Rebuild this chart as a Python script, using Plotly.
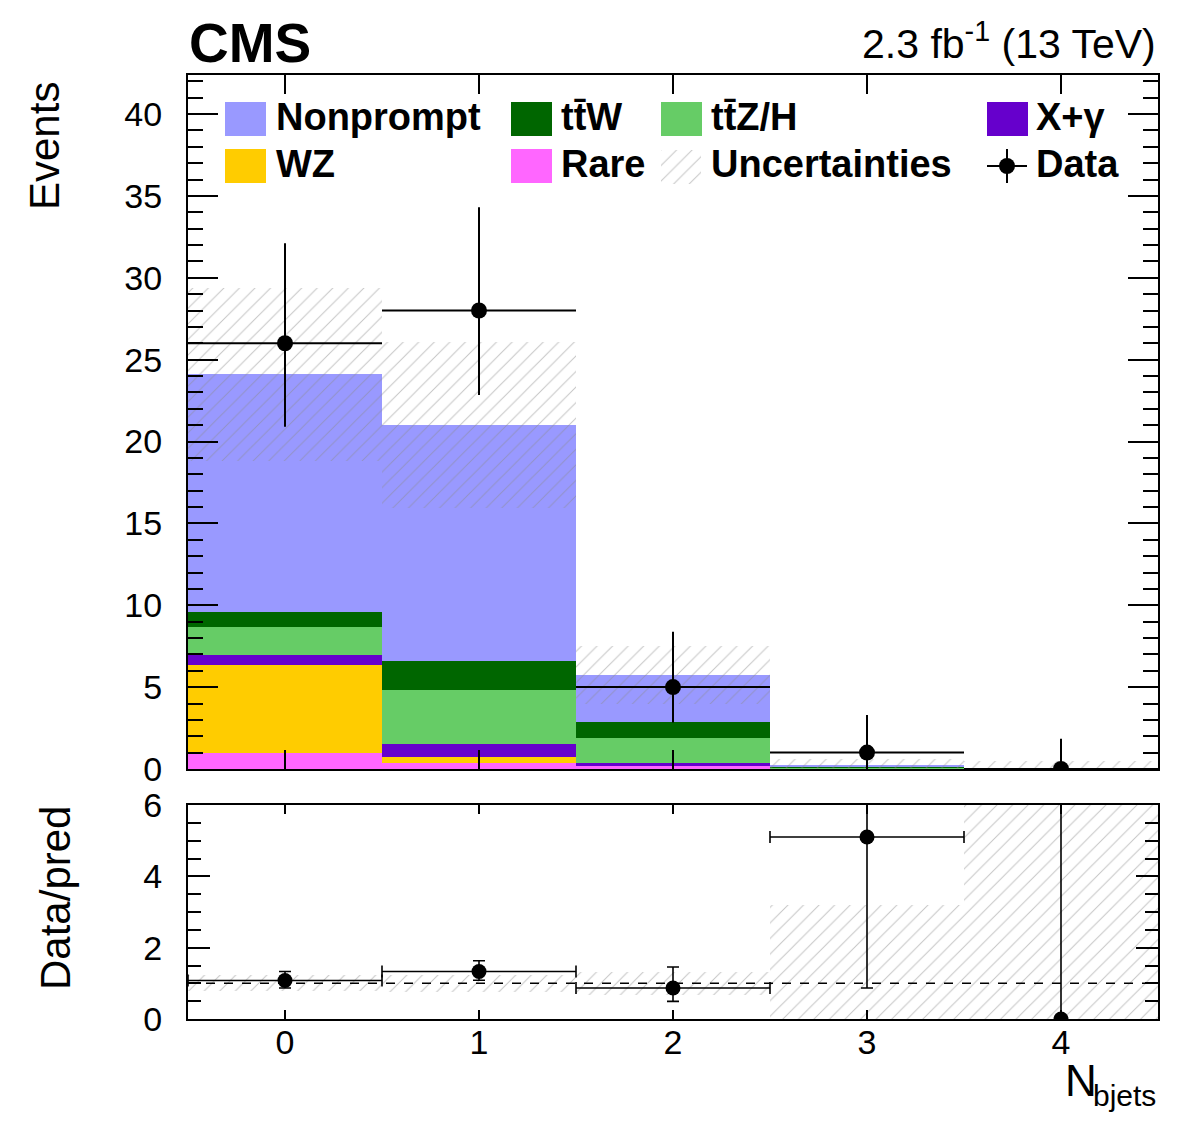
import numpy as np
import plotly.graph_objects as go

# ---------------- data ----------------
categories = [0, 1, 2, 3, 4]
tick_labels = ["0", "1", "2", "3", "4"]
rare = [1.00, 0.39, 0.20, 0.02, 0.01]
wz = [5.35, 0.34, 0.03, 0.00, 0.00]
xgamma = [0.61, 0.80, 0.12, 0.01, 0.00]
ttzh = [1.73, 3.29, 1.52, 0.08, 0.02]
ttw = [0.90, 1.78, 1.00, 0.04, 0.01]
nonprompt = [14.51, 14.40, 2.87, 0.046, 0.01]
uncertainty = [5.30, 5.05, 1.80, 0.43, 0.42]
data = [26, 28, 5, 1, 0]
data_err_up = [6.1, 6.3, 3.38, 2.3, 1.84]
data_err_down = [5.1, 5.16, 2.16, 0.83, 0.0]

# ---------------- geometry helpers ----------------
W, H = 1182, 1121
ML, MR, MT, MB = 188, 24, 75, 102
PW, PH = W - ML - MR, H - MT - MB


def px(xp):
    return (xp - ML) / PW


def py(yp):
    return (H - MB - yp) / PH


FONT = "Liberation Sans, Arial, sans-serif"
HATCH = dict(shape="/", fgcolor="#8c8c8c", bgcolor="rgba(0,0,0,0)", size=11, solidity=0.09)

fig = go.Figure()

x = np.array(categories, dtype=float)
stack = [
    ("Rare", rare, "#FF66FF"),
    ("WZ", wz, "#FFCC00"),
    ("X+γ", xgamma, "#6600CC"),
    ("ttZ/H", ttzh, "#66CC66"),
    ("ttW", ttw, "#006600"),
    ("Nonprompt", nonprompt, "#9999FF"),
]
base = np.zeros(len(categories))
for name, vals, col in stack:
    v = np.array(vals, dtype=float)
    fig.add_trace(go.Bar(x=x, y=v, base=base, width=1.0, name=name,
                         marker=dict(color=col, line=dict(width=0)),
                         xaxis="x", yaxis="y", showlegend=False))
    base = base + v
total = base
unc = np.array(uncertainty)
lo = np.maximum(0, total - unc)
hi = total + unc
fig.add_trace(go.Bar(x=x, y=hi - lo, base=lo, width=1.0,
                     marker=dict(color="rgba(0,0,0,0)", line=dict(width=0), pattern=HATCH),
                     xaxis="x", yaxis="y", showlegend=False))

d = np.array(data, dtype=float)
fig.add_trace(go.Scatter(x=x, y=d, mode="markers", xaxis="x", yaxis="y",
                         marker=dict(color="black", size=16),
                         error_x=dict(type="constant", value=0.5, width=0, thickness=2, color="black"),
                         error_y=dict(type="data", array=data_err_up, arrayminus=data_err_down,
                                      symmetric=False, width=0, thickness=2, color="black"),
                         showlegend=False))

# ---------------- ratio panel ----------------
rel = unc / total
rlo = np.maximum(0, 1 - rel)
rhi = 1 + rel
fig.add_trace(go.Bar(x=x, y=rhi - rlo, base=rlo, width=1.0,
                     marker=dict(color="rgba(0,0,0,0)", line=dict(width=0), pattern=HATCH),
                     xaxis="x2", yaxis="y2", showlegend=False))
ratio = d / total
r_up = np.array(data_err_up) / total
r_dn = np.array(data_err_down) / total
m = d > 0
fig.add_trace(go.Scatter(x=x[m], y=ratio[m], mode="markers", xaxis="x2", yaxis="y2",
                         marker=dict(color="black", size=15),
                         error_x=dict(type="constant", value=0.5, width=6, thickness=1.6, color="black"),
                         error_y=dict(type="data", array=r_up[m], arrayminus=r_dn[m],
                                      symmetric=False, width=6, thickness=1.6, color="black"),
                         showlegend=False))
fig.add_trace(go.Scatter(x=x[~m], y=ratio[~m], mode="markers", xaxis="x2", yaxis="y2",
                         marker=dict(color="black", size=15),
                         error_y=dict(type="data", array=r_up[~m], arrayminus=r_dn[~m],
                                      symmetric=False, width=0, thickness=1.6, color="black"),
                         showlegend=False))

# legend hatch box (uses its own tiny axis)
fig.add_trace(go.Bar(x=[0.5], y=[1], width=1.0, xaxis="x3", yaxis="y3",
                     marker=dict(color="rgba(0,0,0,0)", line=dict(width=0), pattern=HATCH),
                     showlegend=False))

tickfont = dict(family=FONT, size=34, color="black")
axcommon = dict(showline=True, linecolor="black", linewidth=2, mirror="allticks",
                ticks="inside", tickcolor="black", tickwidth=2, showgrid=False, zeroline=False)

fig.update_layout(
    width=W, height=H,
    margin=dict(l=ML, r=MR, t=MT, b=MB),
    paper_bgcolor="white", plot_bgcolor="white",
    barmode="overlay", bargap=0,
    xaxis=dict(domain=[0, 1], anchor="y", range=[-0.5, 4.5], tickvals=categories,
               showticklabels=False, ticklen=19, **axcommon),
    yaxis=dict(domain=[py(769), 1], anchor="x", range=[0, (769 - 75) / 16.375],
               tickvals=list(range(0, 45, 5)), ticklen=30, tickfont=tickfont,
               ticklabelstandoff=17,
               minor=dict(dtick=1, ticklen=15, ticks="inside", tickcolor="black", tickwidth=2),
               **axcommon),
    xaxis2=dict(domain=[0, 1], anchor="y2", range=[-0.5, 4.5], tickvals=categories,
                ticktext=tick_labels, ticklen=9, tickfont=tickfont, ticklabelstandoff=-8,
                **axcommon),
    yaxis2=dict(domain=[0, py(805)], anchor="x2", range=[0, 6], tickvals=[0, 2, 4, 6],
                ticklen=22, tickfont=tickfont, ticklabelstandoff=17,
                minor=dict(dtick=0.5, ticklen=13, ticks="inside", tickcolor="black", tickwidth=2),
                **axcommon),
    xaxis3=dict(domain=[px(661), px(701)], anchor="y3", range=[0, 1], visible=False),
    yaxis3=dict(domain=[py(184), py(150)], anchor="x3", range=[0, 1], visible=False),
)

shapes = []
anns = []
# dashed line at ratio 1
shapes.append(dict(type="line", xref="x2 domain", x0=0, x1=1, yref="y2", y0=1, y1=1,
                   line=dict(color="black", width=1.5, dash="dash")))

# legend
leg_font = dict(family=FONT, size=38, color="black", weight="bold")
rows = [119, 166]
entries = [
    (225, 274, 0, "#9999FF", "Nonprompt"),
    (511, 559, 0, "#006600", "tt\u0304W"),
    (661, 709, 0, "#66CC66", "tt\u0304Z/H"),
    (987, 1034, 0, "#6600CC", "X+γ"),
    (225, 274, 1, "#FFCC00", "WZ"),
    (511, 559, 1, "#FF66FF", "Rare"),
    (661, 709, 1, None, "Uncertainties"),
    (987, 1034, 1, "data", "Data"),
]
for bx, tx, r, col, label in entries:
    cy = rows[r]
    if col == "data":
        shapes.append(dict(type="line", xref="paper", yref="paper", x0=px(bx), x1=px(bx + 40),
                           y0=py(cy), y1=py(cy), line=dict(color="black", width=2)))
        shapes.append(dict(type="line", xref="paper", yref="paper", x0=px(bx + 20), x1=px(bx + 20),
                           y0=py(cy - 17), y1=py(cy + 17), line=dict(color="black", width=2)))
        shapes.append(dict(type="circle", xref="paper", yref="paper", x0=px(bx + 12), x1=px(bx + 28),
                           y0=py(cy + 8), y1=py(cy - 8), fillcolor="black", line=dict(width=0)))
    elif col is not None:
        shapes.append(dict(type="rect", xref="paper", yref="paper", x0=px(bx), x1=px(bx + 41),
                           y0=py(cy + 17), y1=py(cy - 17), fillcolor=col, line=dict(width=0)))
    anns.append(dict(text=label, xref="paper", yref="paper", x=px(tx), y=py(cy - 2),
                     xanchor="left", yanchor="middle", showarrow=False, font=leg_font))

# header texts
anns.append(dict(text="CMS", xref="paper", yref="paper", x=px(187), y=py(43),
                 xanchor="left", yanchor="middle", showarrow=False,
                 font=dict(family=FONT, size=55, color="black", weight="bold")))
anns.append(dict(text="2.3 fb<sup>-1</sup> (13 TeV)", xref="paper", yref="paper", x=px(1158), y=py(41),
                 xanchor="right", yanchor="middle", showarrow=False,
                 font=dict(family=FONT, size=41, color="black")))
# axis titles
anns.append(dict(text="Events", xref="paper", yref="paper", x=px(45), y=py(146), textangle=-90,
                 xanchor="center", yanchor="middle", showarrow=False,
                 font=dict(family=FONT, size=42, color="black")))
anns.append(dict(text="Data/pred", xref="paper", yref="paper", x=px(55), y=py(898), textangle=-90,
                 xanchor="center", yanchor="middle", showarrow=False,
                 font=dict(family=FONT, size=42, color="black")))
anns.append(dict(text="N", xref="paper", yref="paper", x=px(1063), y=py(1080),
                 xanchor="left", yanchor="middle", showarrow=False,
                 font=dict(family=FONT, size=44, color="black")))
anns.append(dict(text="bjets", xref="paper", yref="paper", x=px(1158), y=py(1095),
                 xanchor="right", yanchor="middle", showarrow=False,
                 font=dict(family=FONT, size=30, color="black")))

fig.update_layout(shapes=shapes, annotations=anns)
fig.write_html("out.html")
